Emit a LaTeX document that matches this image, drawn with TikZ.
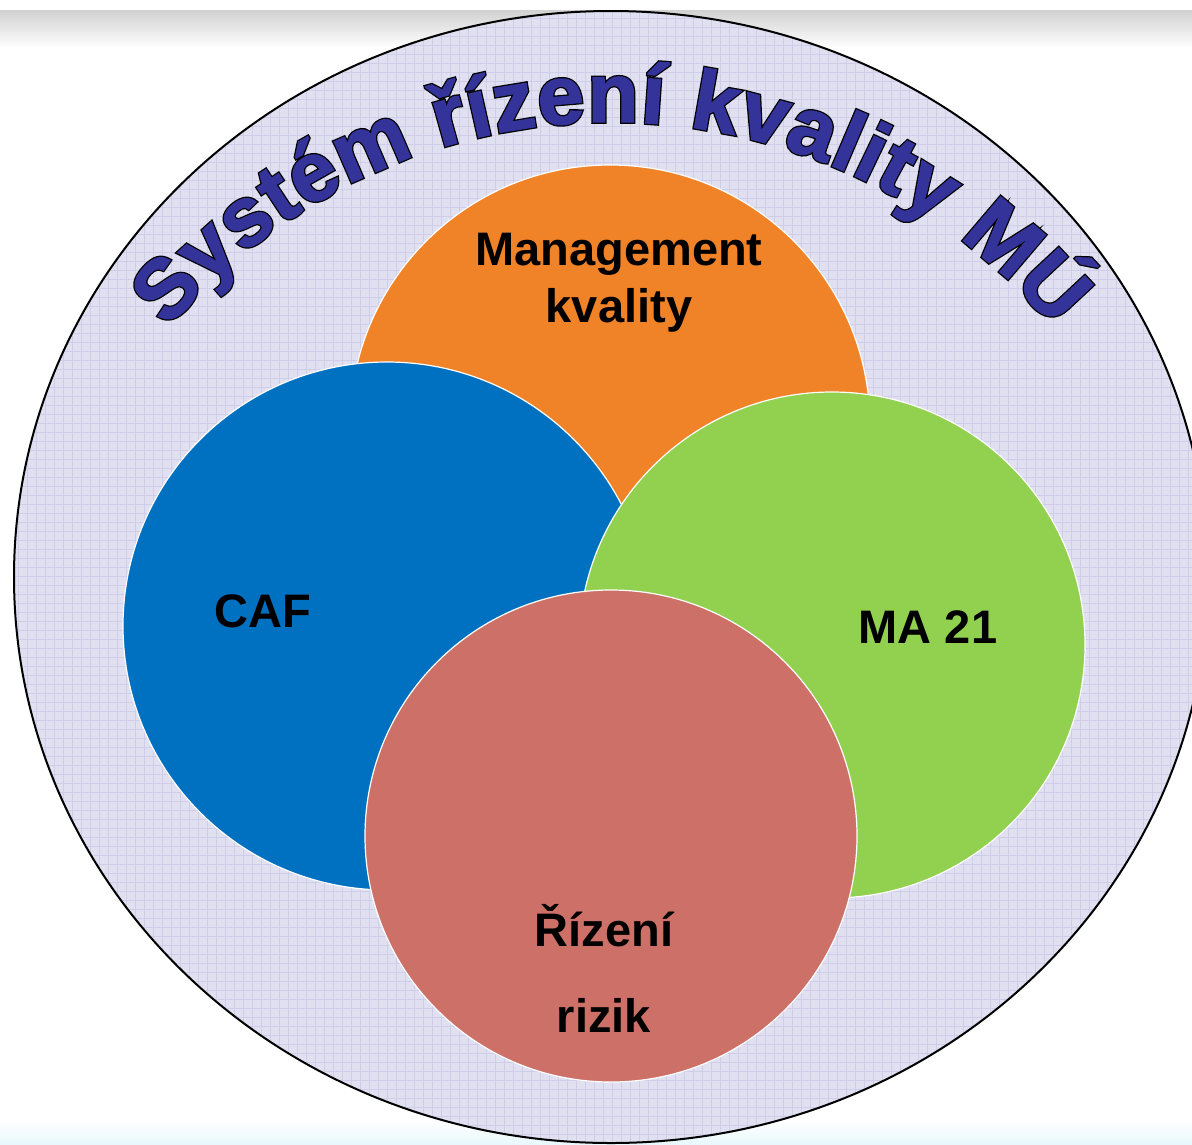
\documentclass[tikz,border=0pt]{standalone}
\usepackage{fontspec}
\setmainfont{Liberation Sans}
\newfontfamily\titleout{Liberation Sans Bold}[FakeBold=4.5]
\newfontfamily\titlein{Liberation Sans Bold}[FakeBold=1.5]
\usetikzlibrary{decorations.text}
\definecolor{bgfill}{RGB}{224,224,240}
\definecolor{gridc}{RGB}{206,206,234}
\definecolor{orangec}{RGB}{240,130,40}
\definecolor{bluec}{RGB}{0,112,192}
\definecolor{greenc}{RGB}{146,208,80}
\definecolor{redc}{RGB}{205,113,104}
\definecolor{titlec}{RGB}{51,51,153}
\tikzset{
  disc/.style={draw=white, line width=1.2pt, circle, inner sep=0pt},
  lbl/.style={font=\fontsize{47}{50}\selectfont\bfseries, text=black, anchor=base, inner sep=0pt},
}
\begin{document}
\begin{tikzpicture}[x=1pt,y=1pt]
\useasboundingbox (0,0) rectangle (1192,-1144);
\clip (0,0) rectangle (1192,-1144);
\fill[white] (0,0) rectangle (1192,-1144);
\shade[top color=black!18, bottom color=white] (0,-10) rectangle (1192,-48);
\shade[top color=white, bottom color={rgb,255:red,232;green,248;blue,252}] (0,-1120) rectangle (1192,-1144);
% big ellipse
\begin{scope}
  \clip (611,-577) ellipse [x radius=597, y radius=566];
  \fill[bgfill] (0,0) rectangle (1192,-1144);
  \draw[gridc, line width=0.7pt, step=9pt] (0,-1144) grid (1192,0);
\end{scope}
\draw[black, line width=2pt] (611,-577) ellipse [x radius=597, y radius=566];
% title along arc (outline pass, then fill pass)
\coordinate (tc) at (611,-700);
\path[decorate, decoration={text along path, text align=fit to path,
  text={|\titleout\fontsize{84}{90}\selectfont\color{black}|Systém řízení kvality MÚ}}]
  (tc) ++(140:578) arc[start angle=140, end angle=40, radius=578];
\path[decorate, decoration={text along path, text align=fit to path,
  text={|\titlein\fontsize{84}{90}\selectfont\color{titlec}|Systém řízení kvality MÚ}}]
  (tc) ++(140:578) arc[start angle=140, end angle=40, radius=578];
% circles
\node[disc, fill=orangec, minimum size=520pt] (mk) at (610,-425) {};
\node[disc, fill=bluec, minimum size=528pt] (caf) at (387,-626) {};
\node[disc, fill=greenc, minimum size=506pt] (ma) at (832,-645) {};
\node[disc, fill=redc, minimum size=492pt] (rr) at (611,-836) {};
% labels
\node[lbl] (t1) at (619,-265) {Management};
\node[lbl] (t2) at (619,-322) {kvality};
\node[lbl] (t3) at (263,-627) {CAF};
\node[lbl] (t4) at (928,-643) {MA 21};
\node[lbl] (t5) at (604,-946) {Řízení};
\node[lbl] (t6) at (604,-1032) {rizik};
\end{tikzpicture}
\end{document}
